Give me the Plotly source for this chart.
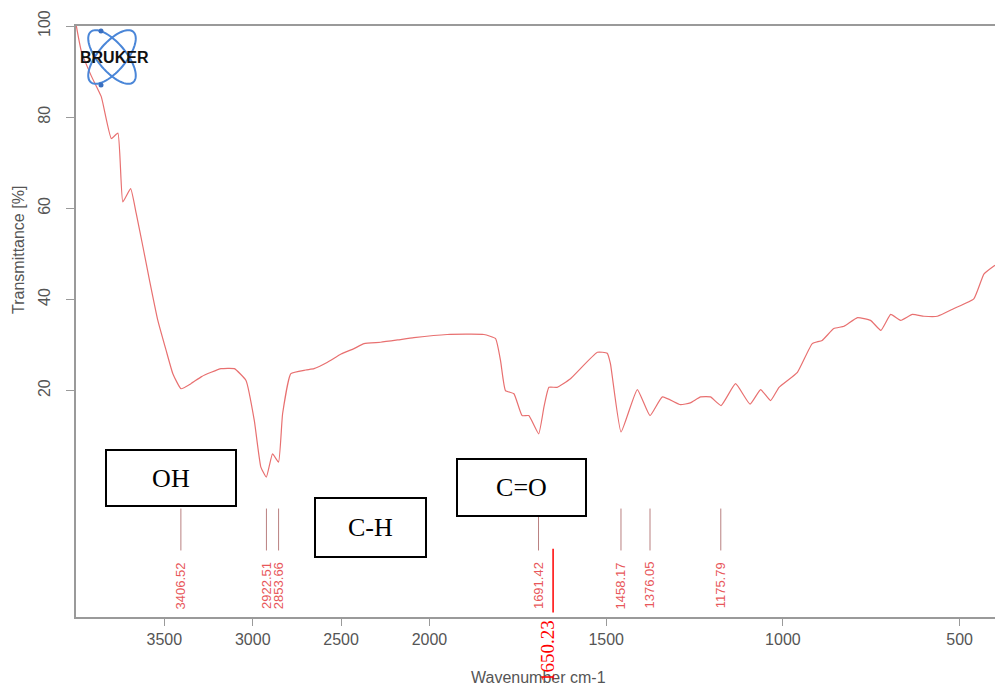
import numpy as np
import plotly.graph_objects as go

# IR spectrum (wavenumber in cm-1, transmittance in %)
wavenumber = [3998, 3970, 3913, 3857, 3800, 3763, 3735, 3691, 3659, 3621, 3584, 3537,
              3490, 3452, 3406, 3350, 3292, 3235, 3179, 3104, 3038, 2991, 2954, 2923,
              2888, 2854, 2831, 2784, 2700, 2653, 2577, 2500, 2427, 2370, 2277, 2180,
              2088, 1950, 1846, 1813, 1799, 1785, 1761, 1738, 1719, 1691, 1676, 1662,
              1639, 1601, 1525, 1497, 1488, 1458, 1412, 1376, 1341, 1290, 1262, 1233,
              1205, 1175, 1134, 1093, 1063, 1035, 1011, 959, 917, 889, 856, 827, 789,
              752, 723, 695, 667, 634, 601, 563, 516, 460, 431, 400]
transmittance = [100, 94.5, 89.0, 84.5, 75.3, 76.5, 61.4, 64.3, 58.8, 51.5, 44.2, 35.4,
                 28.8, 23.7, 20.4, 21.5, 23.0, 24.0, 24.8, 24.8, 22.2, 13.4, 3.2, 1.0,
                 6.1, 4.3, 14.9, 23.7, 24.5, 24.8, 26.2, 28.0, 29.2, 30.3, 30.6, 31.1,
                 31.6, 32.3, 32.3, 31.4, 26.6, 20.0, 19.3, 14.5, 14.5, 10.5, 16.4, 20.7,
                 20.7, 22.6, 28.4, 28.2, 25.9, 10.9, 20.2, 14.5, 18.6, 16.9, 17.3, 18.6,
                 18.6, 16.7, 21.5, 17.0, 20.2, 17.8, 20.7, 24.0, 30.3, 31.0, 33.6, 34.1,
                 36.0, 35.4, 33.2, 36.7, 35.4, 36.7, 36.3, 36.3, 38.0, 40.1, 45.6, 47.5]

# picked peaks
peak_positions = [3406.52, 2922.51, 2853.66, 1691.42, 1458.17, 1376.05, 1175.79]
peak_labels = ["3406.52", "2922.51", "2853.66", "1691.42", "1458.17", "1376.05", "1175.79"]

# extra hand-marked band
extra_peak = 1650.23
extra_label = "1650.23"

# band assignment boxes
band_names = ["OH", "C-H", "C=O"]

x_ticks = [3500, 3000, 2500, 2000, 1500, 1000, 500]
y_ticks = [20, 40, 60, 80, 100]

W, H = 995, 687
ML, MR, MT, MB = 76, 0, 26, 70
PW, PH = W - ML - MR, H - MT - MB


def to_axis(w):
    """Bruker-style axis: region above 2000 cm-1 drawn at half scale."""
    w = np.asarray(w, dtype=float)
    return np.where(w > 2000, 2000 + (w - 2000) / 2.0, w)


def px(xp):
    return (xp - ML) / PW


def py(yp):
    return (H - MB - yp) / PH


fig = go.Figure()
fig.add_trace(go.Scatter(
    x=to_axis(wavenumber), y=transmittance, mode="lines",
    line=dict(color="#e87070", width=1.2, shape="spline", smoothing=0.4),
    hoverinfo="skip", showlegend=False,
))

annotations = []
shapes = []

# peak markers and their rotated labels
for w, lab in zip(peak_positions, peak_labels):
    xa = float(to_axis(w))
    shapes.append(dict(type="line", xref="x", yref="y", x0=xa, x1=xa, y0=-5.9, y1=-15.1,
                       line=dict(color="#b98080", width=1)))
    annotations.append(dict(x=xa, y=-22.8, xref="x", yref="y", text=lab, showarrow=False,
                            textangle=-90, xanchor="center", yanchor="middle",
                            font=dict(family="Liberation Sans, Arial", size=13, color="#e8575a")))

# hand-marked band
xe = float(to_axis(extra_peak))
shapes.append(dict(type="line", xref="x", yref="y", x0=xe, x1=xe, y0=-14.7, y1=-28.7,
                   line=dict(color="#ff0000", width=1.5)))

# axis titles
annotations.append(dict(x=px(538), y=py(677), xref="paper", yref="paper", text="Wavenumber cm-1",
                        showarrow=False, xanchor="center", yanchor="middle",
                        font=dict(family="Liberation Sans, Arial", size=16, color="#555555")))
annotations.append(dict(x=px(19), y=py(250), xref="paper", yref="paper", text="Transmittance [%]",
                        showarrow=False, textangle=-90, xanchor="center", yanchor="middle",
                        font=dict(family="Liberation Sans, Arial", size=16, color="#555555")))

# label of the hand-marked band, drawn over the axis title
annotations.append(dict(x=px(547), y=py(651), xref="paper", yref="paper", text=extra_label,
                        showarrow=False, textangle=-90, xanchor="center", yanchor="middle",
                        font=dict(family="Liberation Serif, Times New Roman", size=19, color="#ff0000")))

# band boxes: (center x, center y, width, height) in pixels
box_geom = [(171, 478, 128, 54), (370.5, 527.5, 109, 57), (521.5, 487.5, 127, 55)]
for name, (cx, cy, bw, bh) in zip(band_names, box_geom):
    annotations.append(dict(x=px(cx), y=py(cy), xref="paper", yref="paper", text=name,
                            showarrow=False, xanchor="center", yanchor="middle",
                            width=bw, height=bh, borderpad=0, borderwidth=2,
                            bordercolor="black", bgcolor="white",
                            font=dict(family="Liberation Serif, Times New Roman", size=26, color="black")))

# logo: two crossed orbits with the brand name
cx0, cy0 = 112, 57
t = np.linspace(0, 2 * np.pi, 80)
for ang in (40, -40):
    a = np.deg2rad(ang)
    ex = 14 * np.cos(t)
    ey = 33 * np.sin(t)
    xr = cx0 + ex * np.cos(a) - ey * np.sin(a)
    yr = cy0 + ex * np.sin(a) + ey * np.cos(a)
    path = "M " + " L ".join(f"{px(u):.5f},{py(v):.5f}" for u, v in zip(xr, yr)) + " Z"
    shapes.append(dict(type="path", xref="paper", yref="paper", path=path,
                       line=dict(color="#4a86d8", width=2), layer="above"))
for (dx, dy) in [(101, 31), (101, 85)]:
    shapes.append(dict(type="circle", xref="paper", yref="paper",
                       x0=px(dx - 2.5), x1=px(dx + 2.5), y0=py(dy + 2.5), y1=py(dy - 2.5),
                       fillcolor="#3a6fc0", line=dict(width=0), layer="above"))
annotations.append(dict(x=px(114), y=py(57), xref="paper", yref="paper", text="<b>BRUKER</b>",
                        showarrow=False, xanchor="center", yanchor="middle",
                        font=dict(family="Liberation Sans, Arial", size=16, color="#111111")))

axis_color = "#9a9a9a"
fig.update_layout(
    width=W, height=H, autosize=False,
    margin=dict(l=ML, r=MR, t=MT, b=MB, pad=0),
    paper_bgcolor="white", plot_bgcolor="white",
    showlegend=False,
    xaxis=dict(
        range=[float(to_axis(4000)), float(to_axis(400))],
        tickvals=[float(v) for v in to_axis(x_ticks)], ticktext=[str(v) for v in x_ticks],
        showgrid=False, zeroline=False, showline=True, mirror=True,
        linecolor=axis_color, linewidth=2, ticks="outside", ticklen=7, tickcolor=axis_color,
        tickfont=dict(family="Liberation Sans, Arial", size=16, color="#555555"),
    ),
    yaxis=dict(
        range=[-29.7, 100], tickvals=y_ticks, ticktext=[str(v) for v in y_ticks],
        tickangle=-90, ticklabelstandoff=10,
        showgrid=False, zeroline=False, showline=True,
        linecolor=axis_color, linewidth=2, ticks="outside", ticklen=8, tickcolor=axis_color,
        tickfont=dict(family="Liberation Sans, Arial", size=16, color="#555555"),
    ),
    annotations=annotations,
    shapes=shapes,
)

fig.write_html("out.html")
